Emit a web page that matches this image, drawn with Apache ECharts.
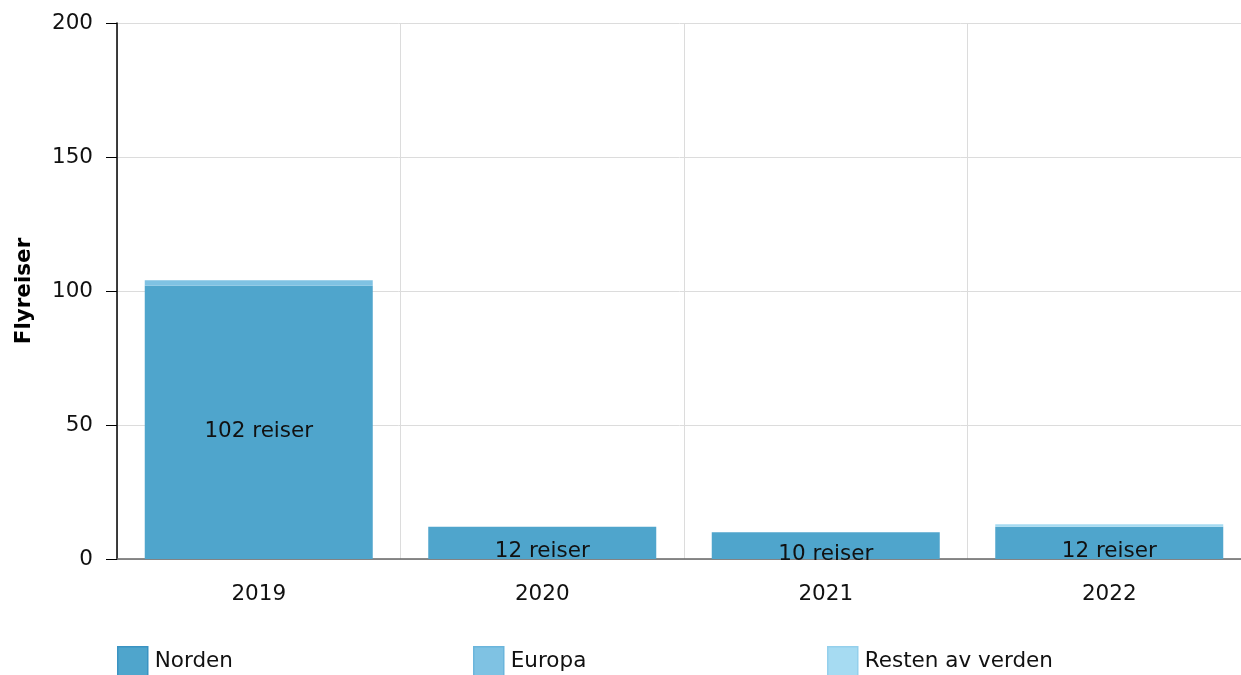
<!DOCTYPE html>
<html><head><meta charset="utf-8">
<script src="https://cdn.jsdelivr.net/npm/echarts@6/dist/echarts.min.js"></script>
<style>html,body{margin:0;padding:0;background:#fff}#c{width:1241px;height:675px}</style>
</head><body><div id="c"></div>
<script>
const categories = ['2019', '2020', '2021', '2022'];
const norden = [102, 12, 10, 12];
const europa = [2, 0, 0, 0];
const resten = [0, 0, 0, 1];
const seriesNames = ['Norden', 'Europa', 'Resten av verden'];
const yTicks = [0, 50, 100, 150, 200];

const colors = ['#4fa5cc', '#7fc2e3', '#a6dbf2'];
const borders = ['#3a93c2', '#6bb5dc', '#94d0ec'];
const FONT = 'DejaVu Sans';
const FS = 21.5;
const chart = echarts.init(document.getElementById('c'));

function mk(name, data, i, withLabel) {
  return {
    name: name, type: 'bar', stack: 'a', data: data, barWidth: 228,
    itemStyle: { color: colors[i] },
    label: withLabel ? {
      show: true, position: 'inside', offset: [0, 9],
      formatter: p => p.value + ' reiser',
      color: '#111', fontFamily: FONT, fontSize: FS
    } : { show: false },
    emphasis: { disabled: true }
  };
}

const legendLefts = [117, 473, 827];
chart.setOption({
  animation: false,
  textStyle: { fontFamily: FONT },
  grid: { left: 117, width: 1134, top: 23, height: 536, containLabel: false, outerBoundsMode: 'none' },
  legend: seriesNames.map((n, i) => ({
    data: [{ name: n, itemStyle: { color: colors[i], borderColor: borders[i], borderWidth: 1.5 } }],
    left: legendLefts[i], top: 646, itemWidth: 30, itemHeight: 29, itemGap: 0, padding: 0,
    icon: 'rect', selectedMode: false,
    textStyle: { fontFamily: FONT, fontSize: FS, color: '#111', padding: [0, 0, 0, 2] }
  })),
  xAxis: {
    type: 'category', data: categories, boundaryGap: true,
    axisLine: { lineStyle: { color: '#666', width: 1.5 } },
    axisTick: { alignWithLabel: true, length: 9, lineStyle: { color: '#aaa' } },
    axisLabel: { color: '#111', fontSize: FS, fontFamily: FONT, margin: 24 },
    splitLine: { show: true, lineStyle: { color: '#dcdcdc' } }
  },
  yAxis: {
    type: 'value', min: yTicks[0], max: yTicks[yTicks.length - 1], interval: 50,
    name: 'Flyreiser', nameLocation: 'middle', nameGap: 82, nameRotate: 90,
    nameTextStyle: { fontFamily: FONT, fontSize: FS, fontWeight: 'bold', color: '#000' },
    axisLine: { show: true, lineStyle: { color: '#000', width: 1.5 } },
    axisTick: { show: true, length: 11, lineStyle: { color: '#000' } },
    axisLabel: { color: '#111', fontSize: FS, fontFamily: FONT, margin: 24 },
    splitLine: { show: true, lineStyle: { color: '#dcdcdc' } }
  },
  series: [
    mk(seriesNames[0], norden, 0, true),
    mk(seriesNames[1], europa, 1, false),
    mk(seriesNames[2], resten, 2, false)
  ]
});
</script></body></html>
